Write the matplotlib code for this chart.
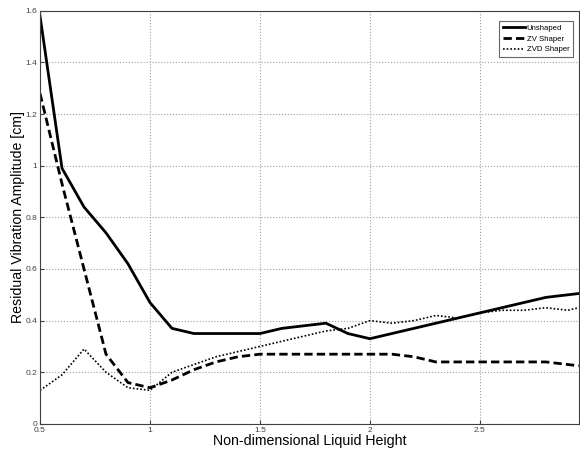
import matplotlib
matplotlib.use("Agg")
import matplotlib.pyplot as plt

x = [0.5, 0.6, 0.7, 0.8, 0.9, 1.0, 1.1, 1.2, 1.3, 1.4, 1.5, 1.6, 1.7, 1.8, 1.9, 2.0,
     2.1, 2.2, 2.3, 2.4, 2.5, 2.6, 2.7, 2.8, 2.9, 2.95]
unshaped = [1.58, 0.99, 0.84, 0.74, 0.62, 0.47, 0.37, 0.35, 0.35, 0.35, 0.35, 0.37, 0.38,
            0.39, 0.35, 0.33, 0.35, 0.37, 0.39, 0.41, 0.43, 0.45, 0.47, 0.49, 0.50, 0.505]
zv = [1.28, 0.93, 0.60, 0.27, 0.16, 0.14, 0.17, 0.21, 0.24, 0.26, 0.27, 0.27, 0.27,
      0.27, 0.27, 0.27, 0.27, 0.26, 0.24, 0.24, 0.24, 0.24, 0.24, 0.24, 0.23, 0.225]
zvd = [0.13, 0.19, 0.29, 0.20, 0.14, 0.13, 0.20, 0.23, 0.26, 0.28, 0.30, 0.32, 0.34,
       0.36, 0.37, 0.40, 0.39, 0.40, 0.42, 0.41, 0.43, 0.44, 0.44, 0.45, 0.44, 0.45]
xticks = [0.5, 1, 1.5, 2, 2.5]
xticklabels = ["0.5", "1", "1.5", "2", "2.5"]
yticks = [0, 0.2, 0.4, 0.6, 0.8, 1.0, 1.2, 1.4, 1.6]
yticklabels = ["0", "0.2", "0.4", "0.6", "0.8", "1", "1.2", "1.4", "1.6"]

plt.rcParams['font.family'] = ['Liberation Sans', 'DejaVu Sans']
fig = plt.figure(figsize=(5.8, 4.5), dpi=100)
ax = fig.add_axes([0.069, 0.058, 0.929, 0.918])
ax.plot(x, unshaped, color='black', lw=2, ls='-', label='Unshaped')
ax.plot(x, zv, color='black', lw=2, ls=(0, (3, 1.5)), label='ZV Shaper')
ax.plot(x, zvd, color='black', lw=1.2, ls=(0, (1, 1.2)), label='ZVD Shaper')
ax.set_xlim(0.5, 2.95)
ax.set_ylim(0, 1.6)
ax.set_xticks(xticks)
ax.set_xticklabels(xticklabels)
ax.set_yticks(yticks)
ax.set_yticklabels(yticklabels)
ax.tick_params(labelsize=6, direction='in', length=3, colors='#404040', labelcolor='#404040')
ax.tick_params(axis='x', pad=2.2)
ax.tick_params(axis='y', pad=2)
ax.grid(True, ls=':', color='#a0a0a0', lw=0.8)
for s in ax.spines.values():
    s.set_color('#404040')
ax.set_xlabel('Non-dimensional Liquid Height', fontsize=10.2, labelpad=0)
ax.set_ylabel('Residual Vibration Amplitude [cm]', fontsize=10.2, labelpad=0)
leg = ax.legend(loc='upper right', fontsize=5.6, fancybox=False, handlelength=2.8,
                borderpad=0.5, labelspacing=0.4, handletextpad=0.2,
                bbox_to_anchor=(0.997, 0.985))
leg.get_frame().set_edgecolor('#404040')
leg.get_frame().set_linewidth(0.8)
fig.savefig('out.png', dpi=100)
